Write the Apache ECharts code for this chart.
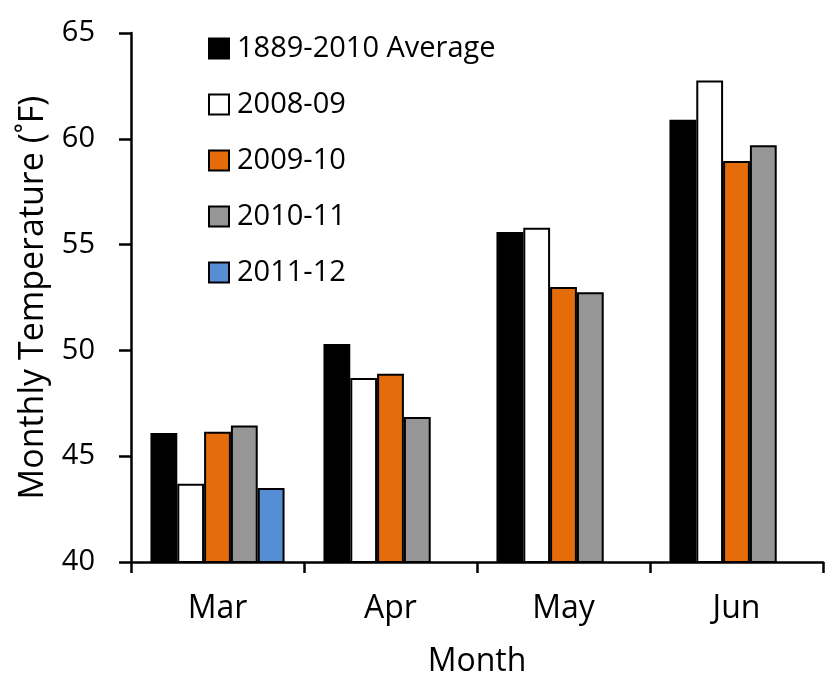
<!DOCTYPE html>
<html>
<head>
<meta charset="utf-8">
<script src="https://cdn.jsdelivr.net/npm/echarts@6/dist/echarts.min.js"></script>
<style>
html,body{margin:0;padding:0;background:#fff;}
#chart{width:833px;height:685px;}
</style>
</head>
<body>
<div id="chart"></div>
<script>
const categories = ['Mar', 'Apr', 'May', 'Jun'];
const seriesNames = ['1889-2010 Average', '2008-09', '2009-10', '2010-11', '2011-12'];
const avg1889_2010 = [46.1, 50.3, 55.6, 60.9];
const y2008_09 = [43.7, 48.7, 55.8, 62.75];
const y2009_10 = [46.15, 48.9, 53.0, 58.95];
const y2010_11 = [46.45, 46.85, 52.75, 59.7];
const y2011_12 = [43.5, null, null, null];
const yTicks = [40, 45, 50, 55, 60, 65];

const colors = ['#000000', '#ffffff', '#E46C0A', '#969696', '#558ED5'];
const dataSets = [avg1889_2010, y2008_09, y2009_10, y2010_11, y2011_12];
const FONT = 'Open Sans';

const chart = echarts.init(document.getElementById('chart'));
chart.setOption({
  animation: false,
  backgroundColor: '#ffffff',
  textStyle: { fontFamily: FONT },
  grid: { left: 131, right: 10, top: 33, bottom: 123, containLabel: false },
  legend: {
    orient: 'vertical',
    left: 203,
    top: 29,
    itemWidth: 20,
    itemHeight: 20,
    itemGap: 27,
    icon: 'rect',
    data: seriesNames,
    textStyle: { fontFamily: FONT, fontSize: 29, color: '#000', lineHeight: 20, padding: [0, 0, 0, 3] }
  },
  xAxis: {
    type: 'category',
    data: categories,
    name: 'Month',
    nameLocation: 'middle',
    nameGap: 84,
    nameTextStyle: { fontFamily: FONT, fontSize: 32, color: '#000' },
    axisLine: { lineStyle: { color: '#000', width: 2.5 } },
    axisTick: { show: true, alignWithLabel: false, length: 11, lineStyle: { color: '#000', width: 2.5 } },
    axisLabel: { fontFamily: FONT, fontSize: 32, color: '#000', margin: 31 }
  },
  yAxis: {
    type: 'value',
    min: yTicks[0],
    max: yTicks[yTicks.length - 1],
    interval: 5,
    name: 'Monthly Temperature (˚F)',
    nameLocation: 'middle',
    nameGap: 81,
    nameTextStyle: { fontFamily: FONT, fontSize: 34, color: '#000' },
    axisLine: { show: true, lineStyle: { color: '#000', width: 2.5 } },
    axisTick: { show: true, inside: false, length: 12, lineStyle: { color: '#000', width: 2.5 } },
    axisLabel: { fontFamily: FONT, fontSize: 29, color: '#000', margin: 36 },
    splitLine: { show: false }
  },
  series: seriesNames.map((name, i) => ({
    name: name,
    type: 'bar',
    data: dataSets[i],
    barGap: '0%',
    barCategoryGap: '22.5%',
    itemStyle: { color: colors[i], borderColor: '#000', borderWidth: 2 }
  }))
});
</script>
</body>
</html>
